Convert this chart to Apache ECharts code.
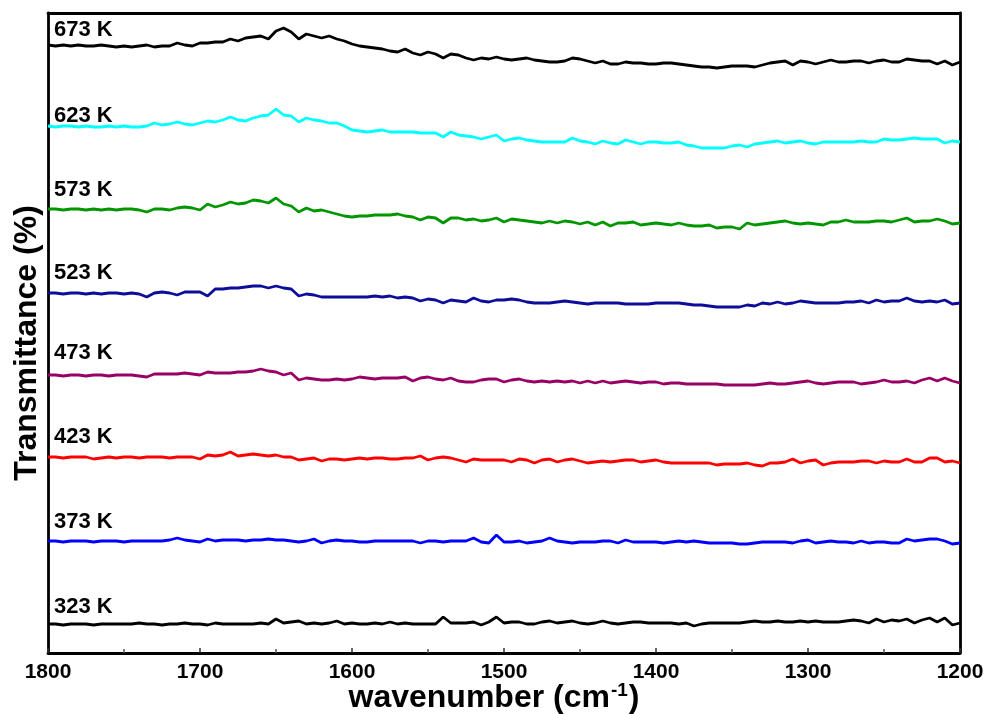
<!DOCTYPE html>
<html><head><meta charset="utf-8">
<script src="https://cdn.jsdelivr.net/npm/echarts@6/dist/echarts.min.js"></script>
<style>html,body{margin:0;padding:0;background:#fff}#c{width:989px;height:714px}</style>
</head><body><div id="c"></div>
<script>
// wavenumber sampling grid (cm-1), 5 cm-1 steps from 1800 down to 1200
const wavenumbers = [];
for (let w = 1800; w >= 1200; w -= 5) wavenumbers.push(w);

const xTicks = [1800, 1700, 1600, 1500, 1400, 1300, 1200];
const seriesLabels = ['673 K', '623 K', '573 K', '523 K', '473 K', '423 K', '373 K', '323 K'];

// Transmittance (arbitrary offset units), one value per wavenumber
const s673 = [608,607,608,607,608,607,607,608,607,606,
607,606,607,608,606,607,607,610,608,607,
610,610,611,611,614,612,615,616,617,614,
622,625,621,614,619,617,615,617,614,612,
609,607,606,605,604,602,601,604,600,598,
601,599,595,599,598,595,593,595,594,596,
594,593,594,595,593,592,591,591,592,595,
594,592,590,592,589,589,591,590,590,589,
589,590,590,589,588,587,586,586,585,586,
587,587,587,586,588,590,591,592,588,592,
591,589,591,593,591,591,592,592,590,592,
593,591,591,594,593,592,592,589,592,588,
591];
const s623 = [527,526,527,527,526,527,526,526,527,526,
527,526,526,527,530,528,529,531,529,528,
530,532,531,533,536,533,532,535,537,538,
544,538,537,531,535,533,532,530,530,527,
523,522,521,522,523,521,521,521,521,520,
520,520,516,521,518,517,516,514,516,518,
512,514,515,513,512,511,511,511,511,515,
512,511,509,512,510,509,513,511,509,511,
511,510,510,511,508,507,505,505,505,505,
507,508,506,509,510,511,512,510,511,512,
510,509,511,511,511,511,511,512,511,511,
514,513,513,514,515,514,514,514,510,512,
511];
const s573 = [444,444,443,444,444,443,444,443,444,443,
444,444,443,441,444,444,443,445,446,445,
443,449,446,448,451,449,450,453,452,450,
455,449,447,441,445,442,443,441,439,437,
436,437,437,438,438,438,439,437,436,433,
436,435,430,435,435,433,434,432,433,435,
431,434,433,432,431,430,432,430,432,431,
429,431,428,431,427,430,430,431,428,429,
430,429,428,430,428,427,427,428,425,426,
426,424,430,428,429,430,431,432,430,429,
430,429,428,431,431,433,431,431,431,432,
432,431,433,435,431,432,432,434,432,429,
430];
const s523 = [360,360,359,360,360,359,360,359,360,360,
359,360,359,356,360,361,360,358,361,361,
361,357,364,364,365,365,366,367,367,365,
367,365,364,357,359,358,356,356,356,356,
356,356,356,357,356,357,355,356,355,352,
354,353,350,353,352,351,355,352,351,353,
353,354,353,351,350,350,350,351,352,351,
350,349,350,350,350,350,349,349,349,349,
350,350,350,350,349,348,348,347,346,346,
346,346,348,347,350,349,351,349,350,352,
351,350,350,350,350,351,351,352,350,353,
351,352,352,355,352,351,352,351,353,349,
350];
const s473 = [278,278,277,278,278,277,278,278,277,278,
278,278,277,276,279,279,279,279,280,279,
278,281,280,280,280,281,281,282,284,282,
281,278,280,273,275,274,273,273,274,273,
274,276,275,274,275,275,275,276,272,275,
276,274,273,275,272,271,271,273,274,274,
271,273,274,272,271,272,271,272,271,272,
270,272,270,272,270,271,272,271,270,271,
271,269,270,270,269,269,269,269,269,268,
268,268,268,268,269,270,269,269,270,271,
272,270,269,270,271,271,271,269,270,271,
273,271,271,272,270,273,275,272,275,272,
270];
const s423 = [196,196,195,196,196,196,194,195,196,195,
196,196,195,196,196,196,195,196,196,196,
194,198,197,198,201,197,198,199,198,197,
198,196,196,193,194,195,192,194,194,193,
194,195,194,195,195,194,194,195,195,197,
193,195,196,195,193,191,194,193,193,193,
193,191,194,193,190,193,194,191,193,194,
192,190,191,192,191,192,193,193,191,192,
193,191,190,190,190,190,190,190,188,189,
189,189,190,188,187,190,190,191,194,190,
192,193,188,190,191,191,191,192,192,190,
192,191,191,194,191,191,195,195,191,192,
190];
const s373 = [112,112,111,112,112,112,111,112,112,112,
111,112,112,112,112,112,113,115,113,112,
111,114,112,113,113,113,112,113,113,114,
113,113,112,111,112,114,110,112,113,112,
112,111,111,112,112,112,112,112,112,110,
112,112,111,112,112,112,115,111,110,118,
111,111,112,110,111,112,115,112,111,110,
111,111,111,112,112,110,113,111,111,111,
111,110,111,112,111,112,111,110,110,110,
110,109,109,110,111,111,111,111,110,112,
113,110,111,112,111,111,110,112,110,111,
111,110,110,114,112,113,114,114,112,109,
110];
const s323 = [29,29,28,29,29,29,28,29,29,29,
29,29,30,29,29,28,29,29,30,29,
29,28,30,29,29,29,29,29,30,29,
34,30,31,32,29,30,29,30,32,29,
30,29,29,30,29,31,29,30,29,29,
29,29,36,30,30,30,31,28,31,36,
30,31,31,29,29,31,32,30,31,32,
30,29,30,32,30,29,30,31,31,30,
30,30,30,29,30,27,29,30,30,30,
30,30,31,32,31,31,32,31,31,32,
31,32,31,31,31,32,33,32,30,34,
31,33,32,34,30,33,35,31,35,28,
30];

const seriesValues = [s673, s623, s573, s523, s473, s423, s373, s323];

// styling (kept separate from data)
const colors = ['#000000', '#00ffff', '#009600', '#0d0d99', '#990066', '#ff0000', '#0000ff', '#000000'];
const labelOffsets = [-15.5, -10, -19.5, -20, -22.5, -20, -19.5, -17];

const chart = echarts.init(document.getElementById('c'), null, { renderer: 'canvas' });
const FONT = 'Liberation Sans, Arial, sans-serif';

const option = {
  animation: false,
  backgroundColor: '#ffffff',
  grid: { left: 48, right: 29, top: 13, bottom: 61 },
  xAxis: [{
    type: 'value', min: 1200, max: 1800, interval: 100, inverse: true,
    axisLine: { show: true, onZero: false, lineStyle: { color: '#000', width: 2.8 } },
    axisTick: { show: true, inside: true, length: 5, lineStyle: { color: '#333', width: 1.5 } },
    minorTick: { show: true, splitNumber: 2, length: 4, lineStyle: { color: '#555', width: 1.5 } },
    splitLine: { show: false },
    axisLabel: { color: '#000', fontFamily: FONT, fontWeight: 'bold', fontSize: 21, margin: 9,
      formatter: v => (xTicks.indexOf(v) >= 0 ? String(v) : '') }
  }, {
    type: 'value', min: 1200, max: 1800, inverse: true, position: 'top',
    axisLine: { show: true, onZero: false, lineStyle: { color: '#000', width: 2.8 } },
    axisTick: { show: false }, axisLabel: { show: false }, splitLine: { show: false }
  }],
  yAxis: [{
    type: 'value', min: 0, max: 640,
    axisLine: { show: true, onZero: false, lineStyle: { color: '#000', width: 2.8 } },
    axisTick: { show: false }, axisLabel: { show: false }, splitLine: { show: false }
  }, {
    type: 'value', min: 0, max: 640, position: 'right',
    axisLine: { show: true, onZero: false, lineStyle: { color: '#000', width: 2.8 } },
    axisTick: { show: false }, axisLabel: { show: false }, splitLine: { show: false }
  }],
  series: seriesValues.map((vals, i) => ({
    name: seriesLabels[i],
    type: 'line',
    xAxisIndex: 0, yAxisIndex: 0,
    showSymbol: false,
    silent: true,
    lineStyle: { color: colors[i], width: 2.8 },
    data: wavenumbers.map((w, j) => [w, vals[j]])
  }))
};
chart.setOption(option);

const graphics = [];
seriesValues.forEach((vals, i) => {
  const p = chart.convertToPixel({ gridIndex: 0 }, [wavenumbers[0], vals[0]]);
  graphics.push({
    type: 'text', left: 54, top: p[1] + labelOffsets[i] - 11,
    style: { text: seriesLabels[i], fill: '#000', font: 'bold 22px ' + FONT }
  });
});
graphics.push({
  type: 'text', x: 27, y: 343, rotation: Math.PI / 2,
  style: { text: 'Transmittance (%)', fill: '#000', font: 'bold 32px ' + FONT,
    textAlign: 'center', textVerticalAlign: 'middle' }
});
graphics.push({
  type: 'text', x: 494, y: 698,
  style: {
    text: '{a|wavenumber (cm}{s|-1}{a|)}',
    textAlign: 'center', textVerticalAlign: 'middle',
    rich: {
      a: { fontFamily: FONT, fontWeight: 'bold', fontSize: 32, fill: '#000', lineHeight: 34 },
      s: { fontFamily: FONT, fontWeight: 'bold', fontSize: 19, fill: '#000', verticalAlign: 'top', lineHeight: 34, padding: [0, 1, 15, 1] }
    }
  }
});
chart.setOption({ graphic: graphics });
</script>
</body></html>
